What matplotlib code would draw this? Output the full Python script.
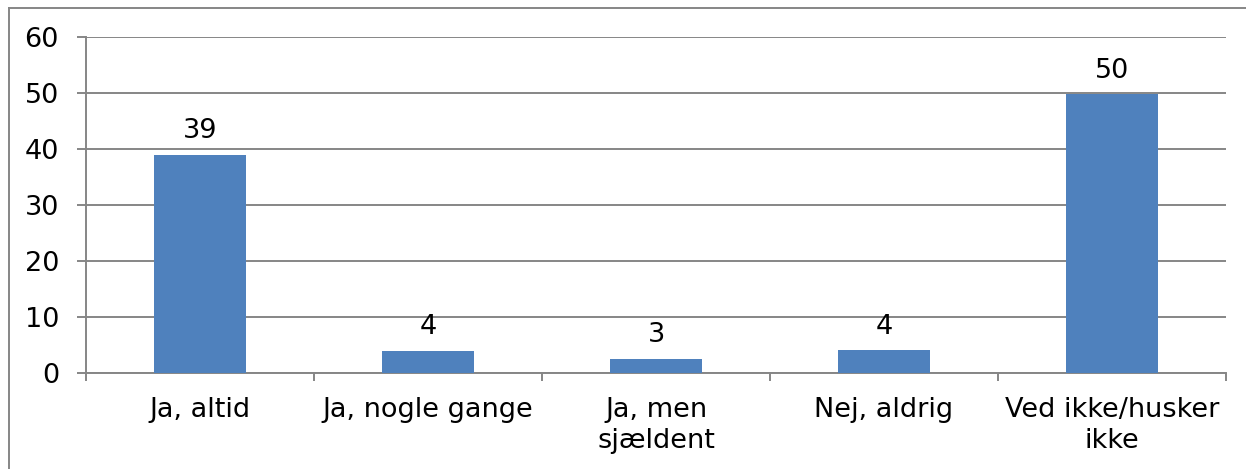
import matplotlib
matplotlib.use("Agg")
import matplotlib.pyplot as plt
import numpy as np
from matplotlib.lines import Line2D

# data
categories = ["Ja, altid", "Ja, nogle gange", "Ja, men\nsjældent", "Nej, aldrig", "Ved ikke/husker\nikke"]
values = [39.0, 4.0, 2.6, 4.1, 49.8]
labels = ["39", "4", "3", "4", "50"]
yticks = [0, 10, 20, 30, 40, 50, 60]

bar_color = "#4F81BD"
grid_color = "#868686"
fs = 19.5

W, H = 1246, 469
fig = plt.figure(figsize=(W / 100, H / 100), dpi=100)
fig.patch.set_facecolor("white")

# plot area in pixels
left, right, top, bottom = 86, 1226, 37.3, 373.3
ax = fig.add_axes([left / W, 1 - bottom / H, (right - left) / W, (bottom - top) / H])

x = np.arange(len(categories))
ax.bar(x, values, width=0.4, color=bar_color, zorder=3)

for xi, v, lab in zip(x, values, labels):
    ax.annotate(lab, (xi, v), xytext=(0, 12), textcoords="offset points",
                ha="center", va="baseline", fontsize=fs)

ax.set_xlim(-0.5, len(categories) - 0.5)
ax.set_ylim(0, 60)
ax.set_yticks(yticks)
ax.yaxis.grid(True, color=grid_color, linewidth=1.4, zorder=0)
ax.set_axisbelow(True)

# boundaries get tick marks, centers get the labels
ax.set_xticks(np.arange(-0.5, len(categories), 1.0))
ax.set_xticklabels([])
ax.set_xticks(x, minor=True)
ax.set_xticklabels(categories, minor=True, fontsize=fs, linespacing=1.25)
ax.tick_params(axis="x", which="major", length=6, width=1.4, color=grid_color, direction="out")
ax.tick_params(axis="x", which="minor", length=0, pad=17)
ax.tick_params(axis="y", length=6.5, width=1.4, color=grid_color, pad=13, labelsize=fs)

for s in ["top", "right"]:
    ax.spines[s].set_visible(False)
for s in ["left", "bottom"]:
    ax.spines[s].set_color(grid_color)
    ax.spines[s].set_linewidth(1.4)

# outer chart border (top and left only visible)
fig.add_artist(Line2D([9 / W, 1], [1 - 8.5 / H, 1 - 8.5 / H], color=grid_color, linewidth=1.4))
fig.add_artist(Line2D([9 / W, 9 / W], [0, 1 - 8.5 / H], color=grid_color, linewidth=1.4))

fig.savefig("out.png", dpi=100, facecolor="white")
